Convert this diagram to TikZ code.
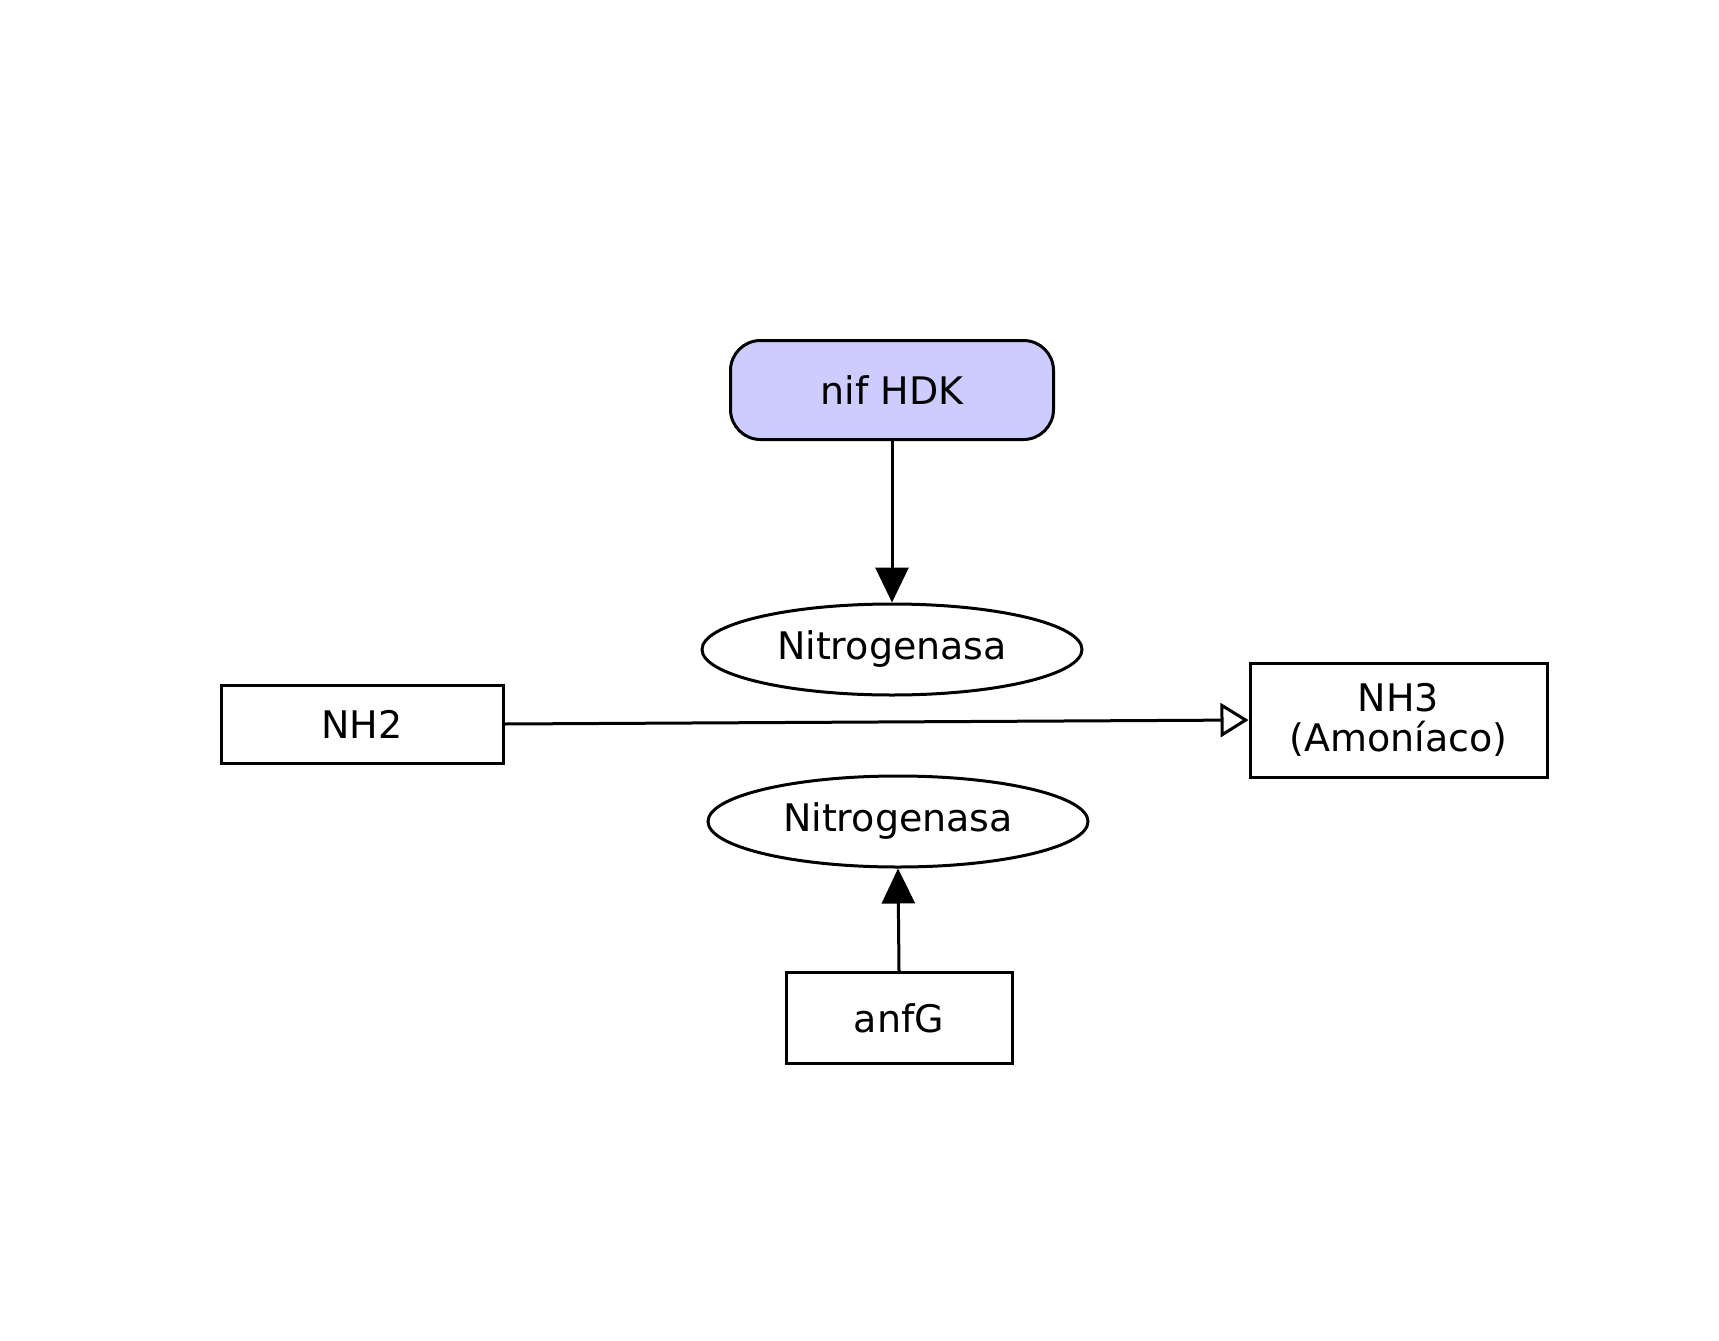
\documentclass[tikz,border=0pt]{standalone}
\usepackage{fontspec}
\setmainfont{DejaVu Sans}
\usetikzlibrary{shapes.geometric,arrows.meta}

\tikzset{
  box/.style={draw,line width=3pt,rectangle,inner sep=0pt,font=\fontsize{38}{40}\selectfont,align=center},
  rbox/.style={box,rounded corners=30pt,fill=blue!20},
  oval/.style={draw,line width=3pt,ellipse,inner sep=0pt,minimum width=380pt,minimum height=91pt,font=\fontsize{38}{40}\selectfont},
  edge/.style={line width=3pt,-{Triangle[length=35pt,width=33pt]}},
  openedge/.style={line width=3pt,-{Triangle[open,length=28pt,width=34pt,line width=3pt]}}
}

\begin{document}
\begin{tikzpicture}[x=1pt,y=-1pt]
  \useasboundingbox (0,0) rectangle (1719,1341);
  \node[rbox,minimum width=323pt,minimum height=99pt] (nifhdk) at (892,390) {nif HDK};
  \node[oval] (nitroa) at (892,649.5) {Nitrogenasa};
  \node[box,minimum width=282pt,minimum height=78pt] (nhdos) at (362,724) {NH2};
  \node[box,minimum width=297pt,minimum height=114pt] (nhtres) at (1398.5,720) {NH3\\(Amoníaco)};
  \node[oval] (nitrob) at (898,821.5) {Nitrogenasa};
  \node[box,minimum width=226pt,minimum height=91pt] (anfg) at (899,1018) {anfG};

  \draw[edge] (nifhdk.south) -- (nitroa.north);
  \draw[openedge] (nhdos.east) -- (nhtres.west);
  \draw[edge] (anfg.north) -- (nitrob.south);
\end{tikzpicture}
\end{document}
